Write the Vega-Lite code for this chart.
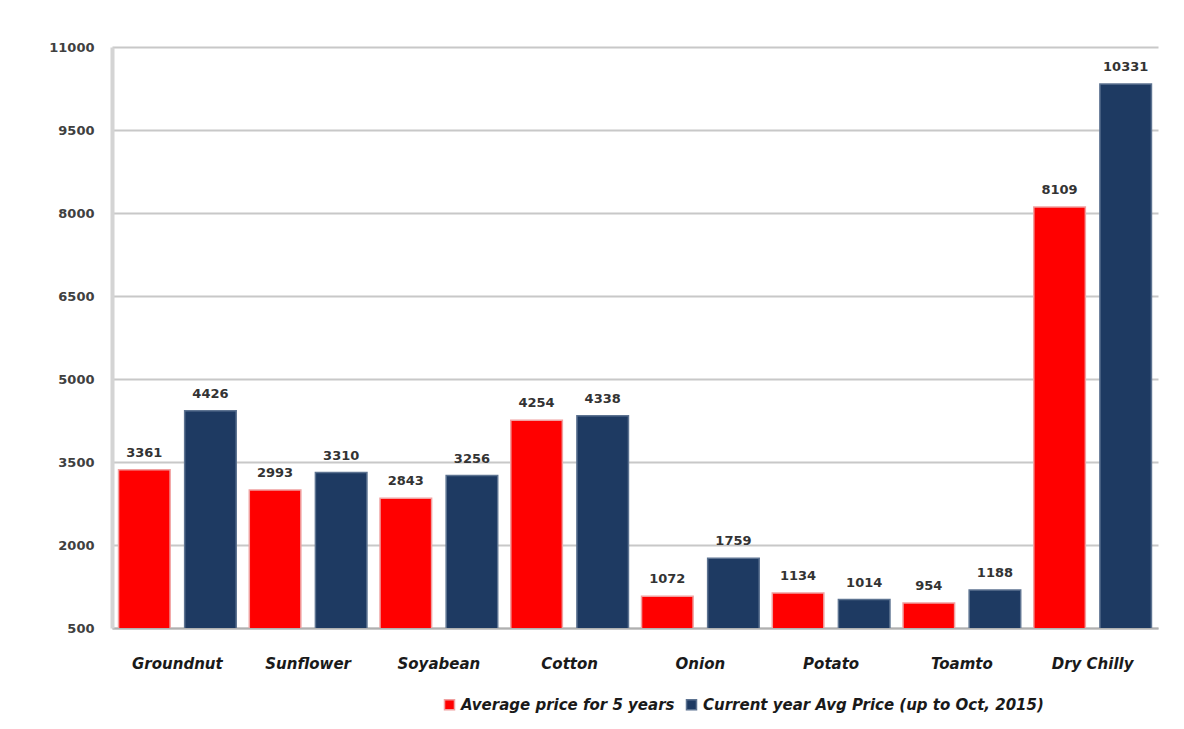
{
  "$schema": "https://vega.github.io/schema/vega-lite/v6.json",
  "width": 1046,
  "height": 581,
  "autosize": {"type": "none"},
  "padding": {"left": 112, "top": 47, "right": 26, "bottom": 101},
  "background": "white",
  "config": {
    "view": {"stroke": null},
    "font": "DejaVu Sans"
  },
  "data": {
    "values": [
      {"crop": "Groundnut", "series": "Average price for 5 years", "price": 3361},
      {"crop": "Groundnut", "series": "Current year Avg Price (up to Oct, 2015)", "price": 4426},
      {"crop": "Sunflower", "series": "Average price for 5 years", "price": 2993},
      {"crop": "Sunflower", "series": "Current year Avg Price (up to Oct, 2015)", "price": 3310},
      {"crop": "Soyabean", "series": "Average price for 5 years", "price": 2843},
      {"crop": "Soyabean", "series": "Current year Avg Price (up to Oct, 2015)", "price": 3256},
      {"crop": "Cotton", "series": "Average price for 5 years", "price": 4254},
      {"crop": "Cotton", "series": "Current year Avg Price (up to Oct, 2015)", "price": 4338},
      {"crop": "Onion", "series": "Average price for 5 years", "price": 1072},
      {"crop": "Onion", "series": "Current year Avg Price (up to Oct, 2015)", "price": 1759},
      {"crop": "Potato", "series": "Average price for 5 years", "price": 1134},
      {"crop": "Potato", "series": "Current year Avg Price (up to Oct, 2015)", "price": 1014},
      {"crop": "Toamto", "series": "Average price for 5 years", "price": 954},
      {"crop": "Toamto", "series": "Current year Avg Price (up to Oct, 2015)", "price": 1188},
      {"crop": "Dry Chilly", "series": "Average price for 5 years", "price": 8109},
      {"crop": "Dry Chilly", "series": "Current year Avg Price (up to Oct, 2015)", "price": 10331}
    ]
  },
  "encoding": {
    "x": {
      "field": "crop",
      "type": "nominal",
      "sort": null,
      "scale": {"paddingInner": 0.1, "paddingOuter": 0.05},
      "axis": {
        "title": null,
        "labelAngle": 0,
        "ticks": false,
        "labelPadding": 28,
        "labelFont": "DejaVu Sans",
        "labelFontSize": 15,
        "labelFontWeight": "bold",
        "labelFontStyle": "italic",
        "labelColor": "#1a1a1a",
        "domainColor": "#b0b0b0",
        "domainWidth": 2,
        "grid": false
      }
    },
    "xOffset": {
      "field": "series",
      "type": "nominal",
      "scale": {"paddingInner": 0.22}
    },
    "y": {
      "field": "price",
      "type": "quantitative",
      "scale": {"domain": [500, 11000], "zero": false, "nice": false},
      "axis": {
        "title": null,
        "values": [500, 2000, 3500, 5000, 6500, 8000, 9500, 11000],
        "format": "d",
        "labelFontSize": 13,
        "labelFontWeight": "bold",
        "labelColor": "#404040",
        "labelPadding": 18,
        "ticks": false,
        "domainColor": "#d4d4d4",
        "domainWidth": 4,
        "gridColor": "#c8c8c8",
        "gridWidth": 2
      }
    }
  },
  "layer": [
    {
      "mark": {"type": "bar", "strokeWidth": 1.5, "clip": true},
      "encoding": {
        "color": {
          "field": "series",
          "type": "nominal",
          "scale": {
            "domain": ["Average price for 5 years", "Current year Avg Price (up to Oct, 2015)"],
            "range": ["#ff0000", "#1e3a62"]
          },
          "legend": {
            "title": null,
            "orient": "none",
            "direction": "horizontal",
            "legendX": 330,
            "legendY": 650,
            "symbolType": "square",
            "symbolSize": 100,
            "labelFontSize": 15,
            "labelFontWeight": "bold",
            "labelFontStyle": "italic",
            "labelColor": "#1a1a1a",
            "labelLimit": 0,
            "columnPadding": 8,
            "labelOffset": 4
          }
        },
        "stroke": {
          "field": "series",
          "type": "nominal",
          "scale": {
            "domain": ["Average price for 5 years", "Current year Avg Price (up to Oct, 2015)"],
            "range": ["#f0a0a0", "#5d7391"]
          },
          "legend": null
        }
      }
    },
    {
      "mark": {"type": "text", "baseline": "bottom", "dy": -10, "fontSize": 13, "fontWeight": "bold", "color": "#333333"},
      "encoding": {
        "text": {"field": "price", "type": "quantitative"}
      }
    }
  ]
}
